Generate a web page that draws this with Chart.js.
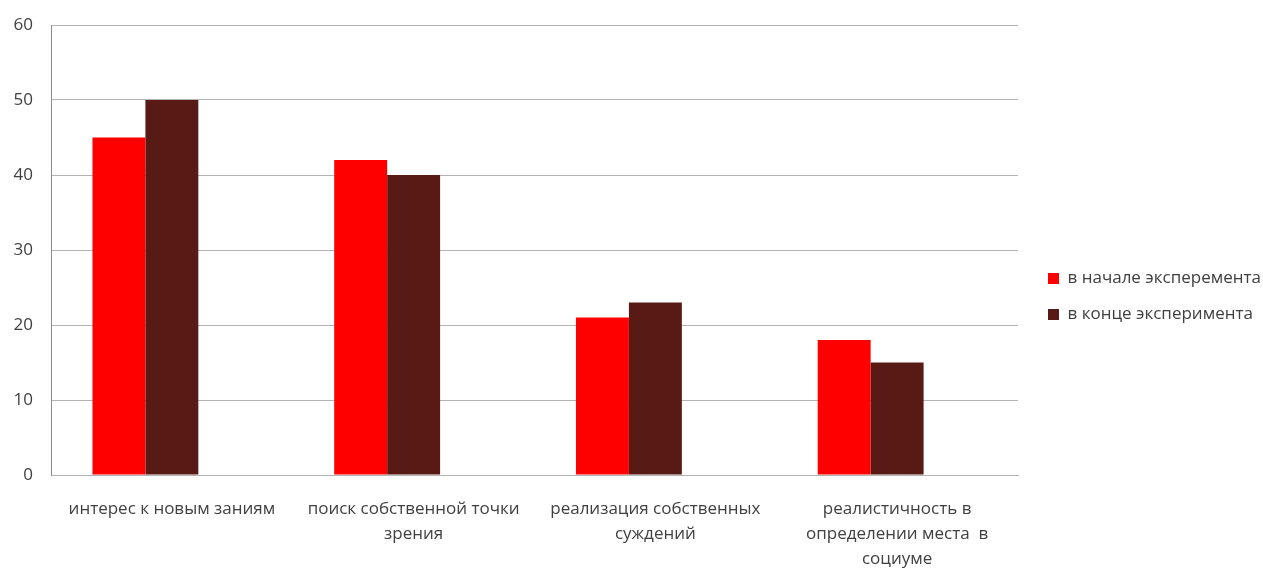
<!DOCTYPE html>
<html>
<head>
<meta charset="utf-8">
<script src="https://cdn.jsdelivr.net/npm/chart.js@4/dist/chart.umd.min.js"></script>
<style>
html,body{margin:0;padding:0;background:#fff;}
#wrap{width:1263px;height:568px;}
</style>
</head>
<body>
<div id="wrap"><canvas id="c" width="1263" height="568"></canvas></div>
<script>
const categories = [
  ["интерес к новым заниям"],
  ["поиск собственной точки", "зрения"],
  ["реализация собственных", "суждений"],
  ["реалистичность в", "определении места  в", "социуме"]
];
const seriesNames = ["в начале эксперемента", "в конце эксперимента"];
const startValues = [45, 42, 21, 18];
const endValues = [50, 40, 23, 15];
const emptySeries = [null, null, null, null];
const yTicks = [0, 10, 20, 30, 40, 50, 60];

const FONT = "'Open Sans', sans-serif";
const TXT = '#404040';

const legendSizer = {
  id: 'legendSizer',
  afterInit(chart) {
    const lg = chart.legend;
    if (!lg) return;
    const origFit = lg.fit.bind(lg);
    lg.fit = function () {
      origFit();
      this.width = 245;
    };
  },
  afterLayout(chart) {
    const lg = chart.legend;
    if (lg) { lg.left += 11; }
  }
};

new Chart(document.getElementById('c'), {
  type: 'bar',
  data: {
    labels: categories,
    datasets: [
      { label: seriesNames[0], data: startValues, backgroundColor: '#FF0000', borderWidth: 0 },
      { label: seriesNames[1], data: endValues, backgroundColor: '#581A14', borderWidth: 0 },
      { label: '', data: emptySeries, backgroundColor: 'rgba(0,0,0,0)', borderWidth: 0 }
    ]
  },
  options: {
    responsive: false,
    animation: false,
    devicePixelRatio: 1,
    layout: { padding: { top: 25, right: 0, left: 0, bottom: 0 } },
    datasets: { bar: { categoryPercentage: 0.657, barPercentage: 1.0 } },
    plugins: {
      tooltip: { enabled: false },
      legend: {
        position: 'right',
        align: 'center',
        fullSize: true,
        labels: {
          filter: (item) => item.text !== '',
          font: { family: FONT, size: 17 },
          color: TXT,
          boxWidth: 11,
          boxHeight: 11,
          padding: 19
        }
      }
    },
    scales: {
      x: {
        grid: { display: false, drawTicks: false },
        border: { display: true, color: '#B3B3B3' },
        ticks: {
          font: { family: FONT, size: 17, lineHeight: 1.47 },
          color: TXT,
          padding: 22,
          maxRotation: 0,
          autoSkip: false
        },
        afterFit: (s) => { s.height = 93; }
      },
      y: {
        min: 0, max: 60,
        afterBuildTicks: (s) => { s.ticks = yTicks.map(v => ({ value: v })); },
        grid: { color: '#B3B3B3', drawTicks: false, lineWidth: 1 },
        border: { display: true, color: '#8C8C8C' },
        ticks: {
          font: { family: FONT, size: 17 },
          color: TXT,
          padding: 18
        },
        afterFit: (s) => { s.width = 51; s.paddingTop = 0; s.paddingBottom = 0; }
      }
    }
  },
  plugins: [legendSizer]
});
</script>
</body>
</html>
